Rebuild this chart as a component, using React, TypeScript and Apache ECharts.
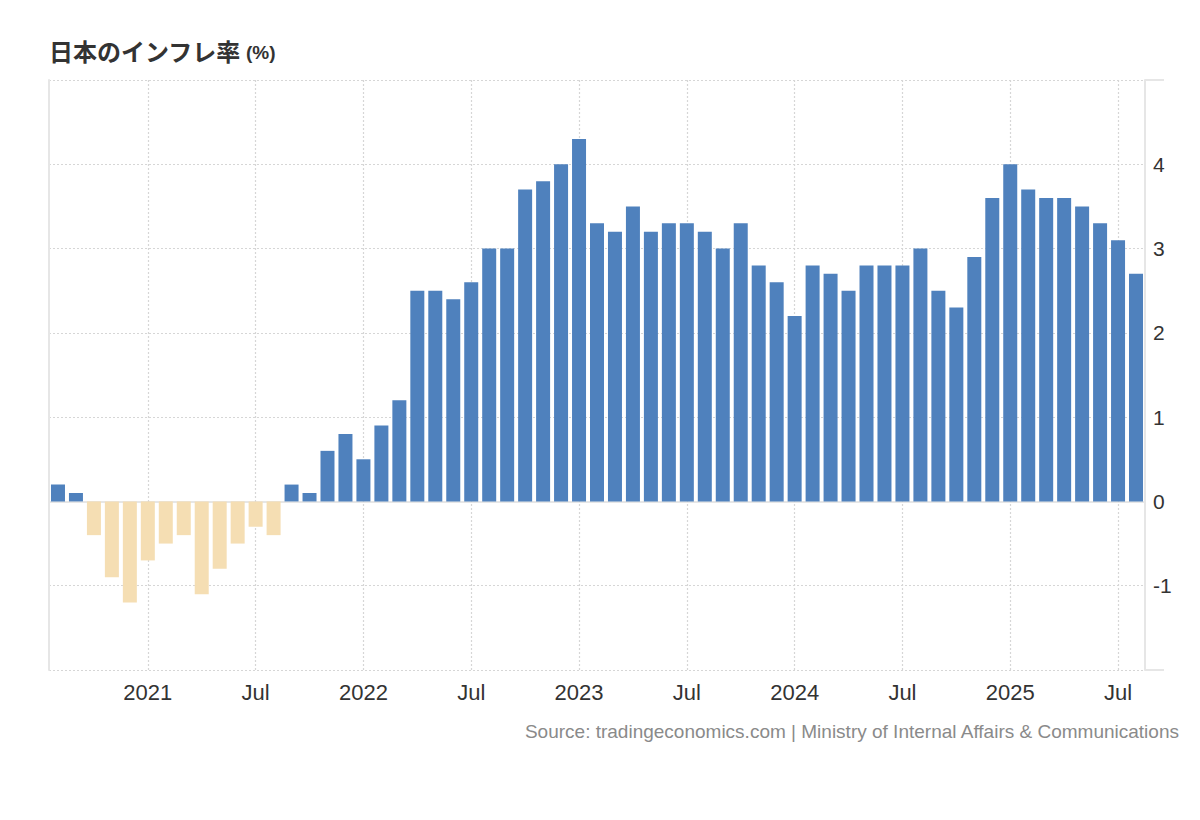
import React, { useEffect, useRef } from "react";
import * as echarts from "echarts";

// Monthly categories (Aug 2020 – Aug 2025)
const months: string[] = [
  "2020-08", "2020-09", "2020-10", "2020-11", "2020-12",
  "2021-01", "2021-02", "2021-03", "2021-04", "2021-05", "2021-06",
  "2021-07", "2021-08", "2021-09", "2021-10", "2021-11", "2021-12",
  "2022-01", "2022-02", "2022-03", "2022-04", "2022-05", "2022-06",
  "2022-07", "2022-08", "2022-09", "2022-10", "2022-11", "2022-12",
  "2023-01", "2023-02", "2023-03", "2023-04", "2023-05", "2023-06",
  "2023-07", "2023-08", "2023-09", "2023-10", "2023-11", "2023-12",
  "2024-01", "2024-02", "2024-03", "2024-04", "2024-05", "2024-06",
  "2024-07", "2024-08", "2024-09", "2024-10", "2024-11", "2024-12",
  "2025-01", "2025-02", "2025-03", "2025-04", "2025-05", "2025-06",
  "2025-07", "2025-08",
];

// Inflation rate, % y/y
const inflation: number[] = [
  0.2, 0.1, -0.4, -0.9, -1.2,
  -0.7, -0.5, -0.4, -1.1, -0.8, -0.5,
  -0.3, -0.4, 0.2, 0.1, 0.6, 0.8,
  0.5, 0.9, 1.2, 2.5, 2.5, 2.4,
  2.6, 3.0, 3.0, 3.7, 3.8, 4.0,
  4.3, 3.3, 3.2, 3.5, 3.2, 3.3,
  3.3, 3.2, 3.0, 3.3, 2.8, 2.6,
  2.2, 2.8, 2.7, 2.5, 2.8, 2.8,
  2.8, 3.0, 2.5, 2.3, 2.9, 3.6,
  4.0, 3.7, 3.6, 3.6, 3.5, 3.3,
  3.1, 2.7,
];

// X-axis tick positions and their labels
const xTickMonths: string[] = [
  "2021-01", "2021-07", "2022-01", "2022-07", "2023-01",
  "2023-07", "2024-01", "2024-07", "2025-01", "2025-07",
];
const xTickLabels: string[] = [
  "2021", "Jul", "2022", "Jul", "2023",
  "Jul", "2024", "Jul", "2025", "Jul",
];

// Y-axis range
const yMin = -2;
const yMax = 5;
const yStep = 1;

const TITLE = "日本のインフレ率";
const UNIT = "(%)";
const SOURCE =
  "Source: tradingeconomics.com | Ministry of Internal Affairs & Communications";

const BLUE = "#4f81bd";
const BEIGE = "#f5deb3";
const AXIS_GRAY = "#e6e6e6";
const GRID_GRAY = "#d6d6d6";
const LATIN = "'Liberation Sans', Arial, sans-serif";
const CJK = "'Noto Sans CJK JP', 'Noto Sans', sans-serif";

export default function App() {
  const ref = useRef<HTMLDivElement>(null);

  useEffect(() => {
    if (!ref.current) return;
    const chart = echarts.init(ref.current, undefined, { renderer: "svg" });

    const option: any = {
      animation: false,
      backgroundColor: "#ffffff",
      title: [
        {
          text: `{a|${TITLE}} {b|${UNIT}}`,
          left: 44,
          top: 33,
          textStyle: {
            rich: {
              a: {
                fontFamily: CJK,
                fontSize: 24,
                fontWeight: "bold",
                color: "#333333",
              },
              b: {
                fontFamily: LATIN,
                fontSize: 19,
                fontWeight: "bold",
                color: "#333333",
                padding: [5, 0, 0, 0],
              },
            },
          },
        },
        {
          text: SOURCE,
          right: 15,
          top: 717,
          textStyle: {
            fontFamily: LATIN,
            fontSize: 19,
            fontWeight: "normal",
            color: "#8a8a8a",
          },
        },
      ],
      grid: {
        left: 49,
        right: 55,
        top: 80,
        bottom: 150,
        containLabel: false,
      },
      xAxis: {
        type: "category",
        data: months,
        boundaryGap: true,
        axisLine: { show: true, lineStyle: { color: AXIS_GRAY, width: 2 } },
        axisTick: { show: false },
        splitLine: { show: false },
        axisLabel: {
          interval: (_i: number, v: string) => xTickMonths.includes(v),
          formatter: (v: string) => {
            const k = xTickMonths.indexOf(v);
            return k >= 0 ? xTickLabels[k] : "";
          },
          fontFamily: LATIN,
          fontSize: 22,
          color: "#333333",
          margin: 11,
        },
      },
      yAxis: [
        {
          type: "value",
          position: "right",
          min: yMin,
          max: yMax,
          interval: yStep,
          axisLine: { show: true, lineStyle: { color: AXIS_GRAY, width: 2 } },
          axisTick: { show: false },
          axisLabel: {
            showMinLabel: false,
            showMaxLabel: false,
            fontFamily: LATIN,
            fontSize: 21,
            color: "#333333",
            margin: 8,
          },
          splitLine: {
            show: true,
            lineStyle: { color: GRID_GRAY, width: 1.2, type: [2, 2] },
          },
        },
        {
          type: "value",
          position: "right",
          min: yMin,
          max: yMax,
          interval: yMax - yMin,
          axisLine: { show: false },
          axisTick: {
            show: true,
            length: 19,
            lineStyle: { color: AXIS_GRAY, width: 2 },
          },
          axisLabel: { show: false },
          splitLine: { show: false },
        },
        {
          type: "value",
          position: "left",
          min: yMin,
          max: yMax,
          interval: yStep,
          axisLine: { show: true, lineStyle: { color: AXIS_GRAY, width: 2 } },
          axisTick: { show: false },
          axisLabel: { show: false },
          splitLine: { show: false },
        },
      ],
      series: [
        {
          type: "bar",
          yAxisIndex: 0,
          data: inflation,
          barWidth: 14,
          itemStyle: {
            color: (p: any) => (p.value < 0 ? BEIGE : BLUE),
          },
          emphasis: { disabled: true },
          markLine: {
            silent: true,
            z: 1,
            symbol: ["none", "none"],
            label: { show: false },
            emphasis: { disabled: true },
            lineStyle: { color: GRID_GRAY, width: 1.2, type: [2, 2] },
            data: xTickMonths.map((m) => ({ xAxis: m })),
          },
        },
      ],
    };

    chart.setOption(option);
    return () => chart.dispose();
  }, []);

  return (
    <div
      ref={ref}
      style={{ position: "absolute", left: 0, top: 0, width: 1200, height: 820 }}
    />
  );
}
